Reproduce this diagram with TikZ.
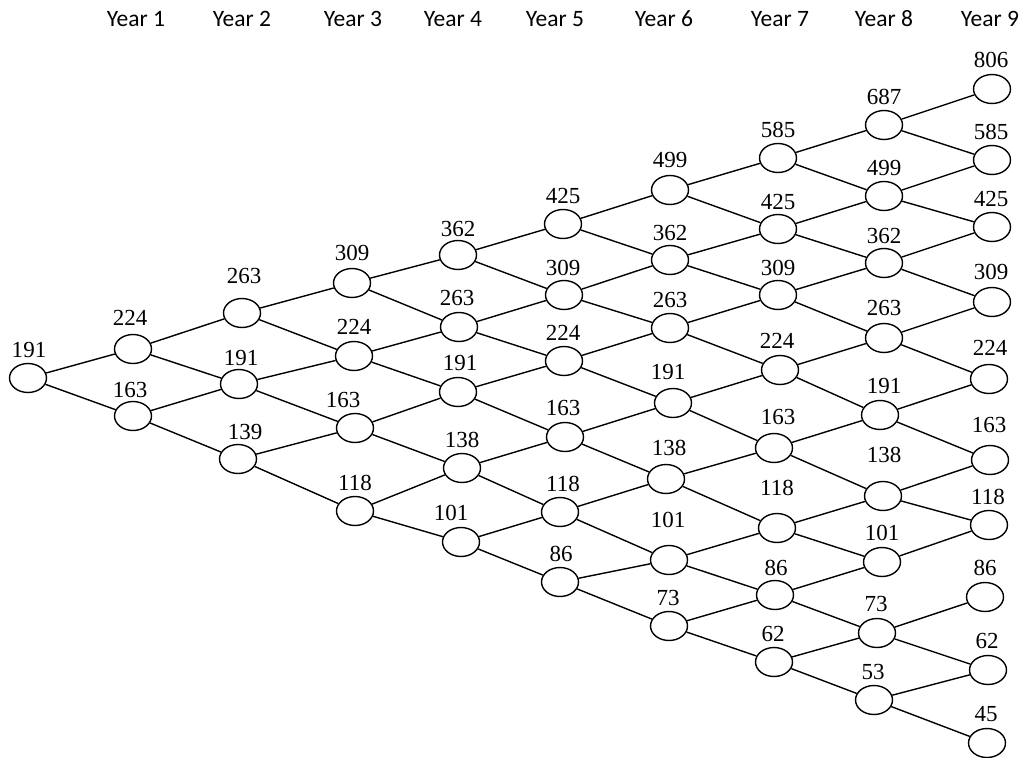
\documentclass[tikz,border=0pt]{standalone}
\usepackage{fontspec}
\setmainfont{Liberation Serif}
\newfontfamily\yearfont{Carlito}
\usetikzlibrary{shapes.geometric}
\tikzset{
  nd/.style={draw, ellipse, line width=1.4pt, minimum width=37pt, minimum height=29pt, inner sep=0pt},
  lab/.style={font=\fontsize{23}{23}\selectfont, inner sep=0pt},
  yr/.style={font=\yearfont\fontsize{23.5}{23.5}\selectfont, inner sep=0pt},
  edge/.style={line width=1.4pt}
}
\begin{document}
\begin{tikzpicture}[x=1pt,y=-1pt]
\useasboundingbox (0,0) rectangle (1024,757);
% year labels
\foreach \i/\x in {1/136,2/242,3/353,4/453,5/555,6/664,7/780,8/884,9/990}
  \node[yr] (y\i) at (\x,19) {Year \i};
% nodes: col/row/value/nx/ny/lx/ly
\foreach \c/\r/\v/\nx/\ny/\lx/\ly in {
 0/0/191/28/378/29/350,
 1/0/224/133/349/130/318, 1/1/163/133/416/130/390,
 2/0/263/242/313/244/276, 2/1/191/239/384/241/358, 2/2/139/238/459/245/432,
 3/0/309/352/283/352/253, 3/1/224/354/356/354/327, 3/2/163/355/428/343/400, 3/3/118/355/511/355/483,
 4/0/362/458/255/458/229, 4/1/263/459/327/457/298, 4/2/191/458/392/460/363, 4/3/138/462/468/462/440, 4/4/101/461/542/451/513,
 5/0/425/563/224/563/196, 5/1/309/564/295/563/268, 5/2/224/564/361/563/333, 5/3/163/565/437/563/408, 5/4/118/560/512/563/484, 5/5/86/560/582/561/554,
 6/0/499/670/190/670/160, 6/1/362/670/260/670/233, 6/2/263/670/328/670/300, 6/3/191/673/403/668/372, 6/4/138/666/479/669/448, 6/5/101/669/560/668/520, 6/6/73/669/626/668/598,
 7/0/585/778/158/778/130, 7/1/425/778/229/778/202, 7/2/309/778/295/778/268, 7/3/224/780/370/777/341, 7/4/163/774/448/778/417, 7/5/118/777/528/777/488, 7/6/86/775/595/776/568, 7/7/62/774/662/773/634,
 8/0/687/884/125/884/97, 8/1/499/884/196/884/168, 8/2/362/884/263/884/236, 8/3/263/884/338/884/308, 8/4/191/880/415/884/386, 8/5/138/883/496/884/455, 8/6/101/882/562/882/533, 8/7/73/877/633/876/604, 8/8/53/874/700/873/672,
 9/0/806/992/89/991/60, 9/1/585/992/160/991/132, 9/2/425/992/227/991/199, 9/3/309/992/302/991/272, 9/4/224/989/379/990/348, 9/5/163/990/460/989/425, 9/6/118/989/525/988/497, 9/7/86/985/597/985/568, 9/8/62/988/670/987/641, 9/9/45/987/743/986/714}
{
  \node[nd] (n\c-\r) at (\nx,\ny) {};
  \node[lab] (l\c-\r) at (\lx,\ly) {\v};
}
% edges
\foreach \c in {0,...,8}{
  \pgfmathtruncatemacro{\nc}{\c+1}
  \foreach \r in {0,...,\c}{
    \pgfmathtruncatemacro{\nr}{\r+1}
    \draw[edge] (n\c-\r) -- (n\nc-\r);
    \ifnum\c=8 \ifnum\r=6 \else \draw[edge] (n\c-\r) -- (n\nc-\nr); \fi
    \else \draw[edge] (n\c-\r) -- (n\nc-\nr); \fi
  }
}
\end{tikzpicture}
\end{document}
